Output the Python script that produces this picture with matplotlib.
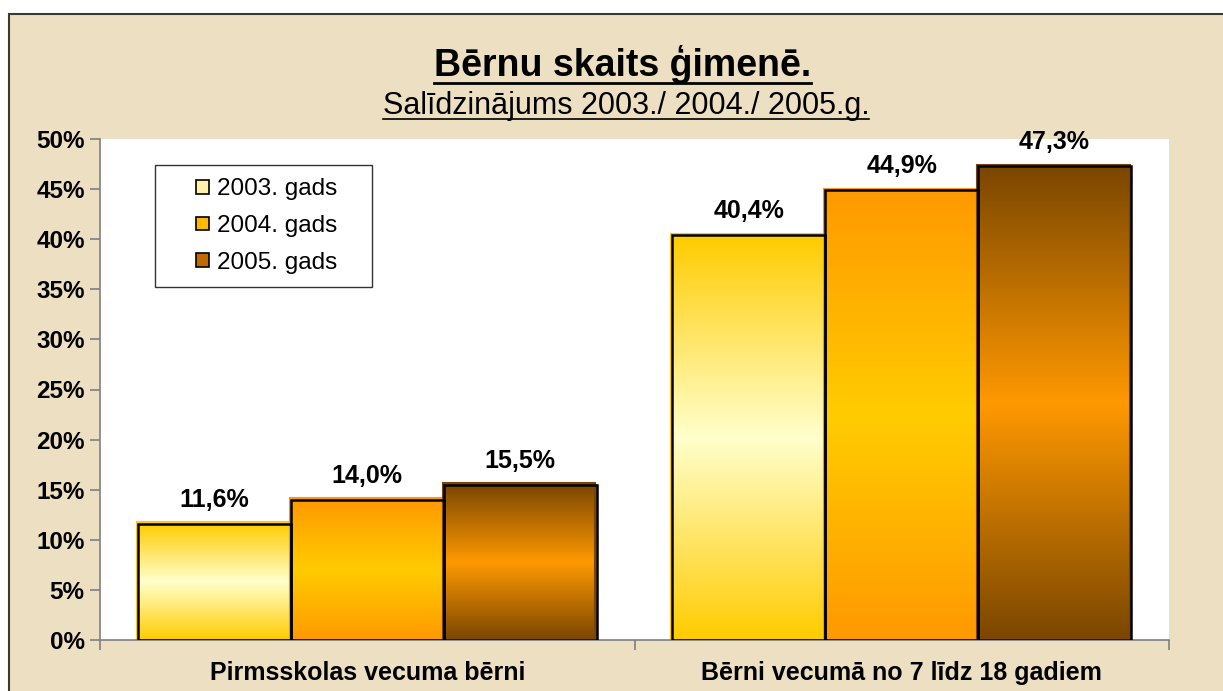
"""Bērnu skaits ģimenē — grouped bars with vertical gradient fills, Excel-2003 style."""
import matplotlib
matplotlib.use("Agg")
import matplotlib.pyplot as plt
import numpy as np
from matplotlib.colors import LinearSegmentedColormap
from matplotlib.legend_handler import HandlerPatch
from matplotlib.patches import Rectangle
from matplotlib.ticker import FuncFormatter, MultipleLocator

plt.rcParams["font.family"] = ["Liberation Sans", "DejaVu Sans"]

categories = ["Pirmsskolas vecuma bērni", "Bērni vecumā no 7 līdz 18 gadiem"]
years = ["2003. gads", "2004. gads", "2005. gads"]
v2003 = [11.6, 40.4]
v2004 = [14.0, 44.9]
v2005 = [15.5, 47.3]
series = [v2003, v2004, v2005]

# edge / middle colour of each gradient (edge at top and bottom of bar)
grad = [("#FFCC00", "#FFFFCC"), ("#FF9900", "#FFCC00"), ("#7A4600", "#FF9900")]
legend_face = ["#FFF2A8", "#FFB800", "#C06A00"]
PARCH = "#EDDFC1"
W = 0.286

fig = plt.figure(figsize=(12.23, 6.91), dpi=100)
fig.patch.set_facecolor("white")
bg = Rectangle((9 / 1223, -0.01), 1.02, (691 - 14) / 691 + 0.01,
               transform=fig.transFigure, facecolor=PARCH,
               edgecolor="#3a3a30", linewidth=1.5, zorder=-5)
fig.add_artist(bg)

ax = fig.add_axes([100 / 1223, 51 / 691, 1069 / 1223, 501 / 691])
ax.set_zorder(1)
ax.set_facecolor("white")

for j, vals in enumerate(series):
    cmap = LinearSegmentedColormap.from_list(f"g{j}", [grad[j][0], grad[j][1], grad[j][0]])
    g = np.linspace(0, 1, 256).reshape(-1, 1)
    for i, v in enumerate(vals):
        x0 = i - 1.5 * W + j * W
        ax.imshow(g, cmap=cmap, extent=[x0, x0 + W, 0, v], aspect="auto",
                  origin="lower", interpolation="bilinear", zorder=2)
        # thin coloured offset edge, like the Excel bar shading
        ax.add_patch(Rectangle((x0 - 0.002, 0), W, v + 0.15, facecolor="none",
                               edgecolor=grad[j][0], linewidth=1.5, zorder=2.5))
        ax.add_patch(Rectangle((x0, 0), W, v, facecolor="none",
                               edgecolor="black", linewidth=1.8, zorder=3))
        ax.text(x0 + W / 2, v + 1.2, f"{v:.1f}%".replace(".", ","),
                ha="center", va="bottom", fontsize=18, fontweight="bold", zorder=4)
ax.set_xlim(-0.5, 1.5)
ax.set_ylim(0, 50)

for s in ["top", "right"]:
    ax.spines[s].set_visible(False)
for s in ["left", "bottom"]:
    ax.spines[s].set_color("#808080")
    ax.spines[s].set_linewidth(1.2)

ax.yaxis.set_major_locator(MultipleLocator(5))
ax.yaxis.set_major_formatter(FuncFormatter(lambda y, _: f"{y:.0f}%"))
ax.tick_params(axis="y", length=7, width=1.2, color="#808080", labelsize=17.5, pad=4)
for lab in ax.get_yticklabels():
    lab.set_fontweight("bold")

ax.set_xticks([-0.5, 0.5, 1.5])
ax.set_xticklabels([])
ax.set_xticks([0, 1], minor=True)
ax.set_xticklabels(categories, minor=True, fontsize=18, fontweight="bold")
ax.tick_params(axis="x", which="major", length=7, width=1.2, color="#808080")
ax.tick_params(axis="x", which="minor", length=0, pad=15)


def right_square(legend, orig_handle, xdescent, ydescent, width, height, fontsize):
    s = 0.55 * fontsize
    return Rectangle((-xdescent + width - s, -ydescent + (height - s) / 2), s, s)


handles = [Rectangle((0, 0), 1, 1, facecolor=legend_face[j], edgecolor="black", linewidth=1.2)
           for j in range(3)]
leg = ax.legend(handles, years, loc="upper left",
                bbox_to_anchor=(0.051, 0.7045, 0.203, 0.2435), mode="expand",
                handler_map={Rectangle: HandlerPatch(patch_func=right_square)},
                fontsize=17.5, frameon=True, fancybox=False, handlelength=1.69,
                handleheight=0.6, handletextpad=0.33, borderpad=0.55, labelspacing=0.6,
                borderaxespad=0)
leg.get_frame().set_edgecolor("black")
leg.get_frame().set_linewidth(1.0)

fig.text(0.509, 0.906, "Bērnu skaits ģimenē.", ha="center", va="center",
         fontsize=27, fontweight="bold")
fig.text(0.512, 0.847, "Salīdzinājums 2003./ 2004./ 2005.g.", ha="center", va="center",
         fontsize=22)
# underline title and subtitle
fig.canvas.draw()
r = fig.canvas.get_renderer()
for t in list(fig.texts):
    bb = t.get_window_extent(r).transformed(fig.transFigure.inverted())
    fig.add_artist(plt.Line2D([bb.x0, bb.x1], [bb.y0 + 0.002, bb.y0 + 0.002],
                              transform=fig.transFigure, color="black",
                              linewidth=2.0 if t.get_fontweight() == "bold" else 1.2))

fig.savefig("out.png", dpi=100, facecolor=fig.get_facecolor())
